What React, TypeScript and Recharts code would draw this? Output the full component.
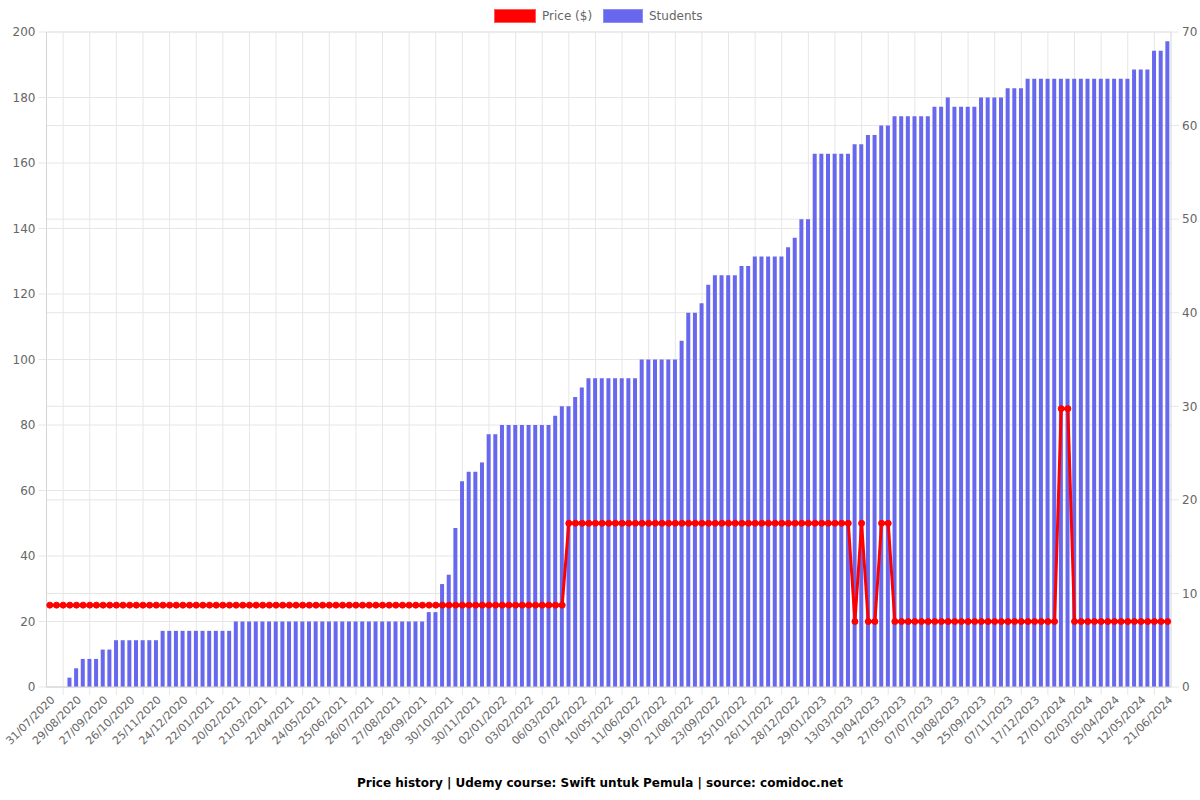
import React from 'react';
import { ComposedChart, Bar, Line, XAxis, YAxis, CartesianGrid } from 'recharts';

const dates = [
  '31/07/2020','07/08/2020','14/08/2020','22/08/2020','29/08/2020','05/09/2020','12/09/2020','20/09/2020','27/09/2020','04/10/2020',
  '11/10/2020','19/10/2020','26/10/2020','02/11/2020','10/11/2020','17/11/2020','25/11/2020','02/12/2020','09/12/2020','16/12/2020',
  '24/12/2020','31/12/2020','07/01/2021','14/01/2021','22/01/2021','29/01/2021','05/02/2021','12/02/2021','20/02/2021','27/02/2021',
  '06/03/2021','13/03/2021','21/03/2021','29/03/2021','06/04/2021','14/04/2021','22/04/2021','30/04/2021','08/05/2021','16/05/2021',
  '24/05/2021','01/06/2021','09/06/2021','17/06/2021','25/06/2021','03/07/2021','11/07/2021','18/07/2021','26/07/2021','03/08/2021',
  '11/08/2021','19/08/2021','27/08/2021','04/09/2021','12/09/2021','20/09/2021','28/09/2021','06/10/2021','14/10/2021','22/10/2021',
  '30/10/2021','07/11/2021','15/11/2021','22/11/2021','30/11/2021','08/12/2021','16/12/2021','25/12/2021','02/01/2022','10/01/2022',
  '18/01/2022','26/01/2022','03/02/2022','11/02/2022','19/02/2022','27/02/2022','06/03/2022','14/03/2022','22/03/2022','30/03/2022',
  '07/04/2022','15/04/2022','24/04/2022','02/05/2022','10/05/2022','18/05/2022','26/05/2022','03/06/2022','11/06/2022','21/06/2022',
  '30/06/2022','10/07/2022','19/07/2022','27/07/2022','04/08/2022','13/08/2022','21/08/2022','29/08/2022','07/09/2022','15/09/2022',
  '23/09/2022','01/10/2022','09/10/2022','17/10/2022','25/10/2022','02/11/2022','10/11/2022','18/11/2022','26/11/2022','04/12/2022',
  '12/12/2022','20/12/2022','28/12/2022','05/01/2023','13/01/2023','21/01/2023','29/01/2023','09/02/2023','19/02/2023','02/03/2023',
  '13/03/2023','22/03/2023','31/03/2023','10/04/2023','19/04/2023','28/04/2023','08/05/2023','17/05/2023','27/05/2023','06/06/2023',
  '16/06/2023','27/06/2023','07/07/2023','18/07/2023','29/07/2023','09/08/2023','19/08/2023','28/08/2023','07/09/2023','16/09/2023',
  '25/09/2023','06/10/2023','17/10/2023','28/10/2023','07/11/2023','17/11/2023','27/11/2023','07/12/2023','17/12/2023','27/12/2023',
  '06/01/2024','17/01/2024','27/01/2024','05/02/2024','14/02/2024','23/02/2024','02/03/2024','10/03/2024','19/03/2024','28/03/2024',
  '05/04/2024','14/04/2024','24/04/2024','03/05/2024','12/05/2024','22/05/2024','01/06/2024','11/06/2024','21/06/2024',
];

const students = [
  0,0,0,1,2,3,3,3,4,4,
  5,5,5,5,5,5,5,6,6,6,
  6,6,6,6,6,6,6,6,7,7,
  7,7,7,7,7,7,7,7,7,7,
  7,7,7,7,7,7,7,7,7,7,
  7,7,7,7,7,7,7,8,8,11,
  12,17,22,23,23,24,27,27,28,28,
  28,28,28,28,28,28,29,30,30,31,
  32,33,33,33,33,33,33,33,33,35,
  35,35,35,35,35,37,40,40,41,43,
  44,44,44,44,45,45,46,46,46,46,
  46,47,48,50,50,57,57,57,57,57,
  57,58,58,59,59,60,60,61,61,61,
  61,61,61,62,62,63,62,62,62,62,
  63,63,63,63,64,64,64,65,65,65,
  65,65,65,65,65,65,65,65,65,65,
  65,65,65,66,66,66,68,68,69,
];

const prices = [
  25,25,25,25,25,25,25,25,25,25,
  25,25,25,25,25,25,25,25,25,25,
  25,25,25,25,25,25,25,25,25,25,
  25,25,25,25,25,25,25,25,25,25,
  25,25,25,25,25,25,25,25,25,25,
  25,25,25,25,25,25,25,25,25,25,
  25,25,25,25,25,25,25,25,25,25,
  25,25,25,25,25,25,25,25,50,50,
  50,50,50,50,50,50,50,50,50,50,
  50,50,50,50,50,50,50,50,50,50,
  50,50,50,50,50,50,50,50,50,50,
  50,50,50,50,50,50,50,50,50,50,
  50,20,50,20,20,50,50,20,20,20,
  20,20,20,20,20,20,20,20,20,20,
  20,20,20,20,20,20,20,20,20,20,
  20,20,85,85,20,20,20,20,20,20,
  20,20,20,20,20,20,20,20,20,
];

const priceTicks = [0, 20, 40, 60, 80, 100, 120, 140, 160, 180, 200];
const studentTicks = [0, 10, 20, 30, 40, 50, 60, 70];

const data = dates.map((d, i) => ({ date: d, students: students[i], price: prices[i] }));

const W = 1200;
const H = 800;
const PLOT_TOP = 32;
const PLOT_BOTTOM = 687;
const LEFT_AXIS_W = 46.5;
const RIGHT_AXIS_W = 29;
const FONT = '"DejaVu Sans", sans-serif';
const GRID = '#e6e6e6';
const AXIS = '#d4d4d4';

const gridX = (args: any) => {
  const off = args && args.offset ? args.offset : { left: LEFT_AXIS_W, width: W - LEFT_AXIS_W - RIGHT_AXIS_W };
  const w = off.width / dates.length;
  const xs: number[] = [];
  for (let j = 4; j < dates.length; j += 4) xs.push(off.left + (j - 1.5) * w);
  return xs;
};

export default function App() {
  return (
    <div style={{ position: 'absolute', left: 0, top: 0, width: W, height: H, background: '#fff', fontFamily: FONT }}>
      <div style={{ position: 'absolute', left: 0, top: 0, width: W, height: 30, fontSize: 12, color: '#666' }}>
        <div style={{ position: 'absolute', left: 494, top: 9, width: 40, height: 12, background: '#ff0000', border: '1.5px solid #ff5a5a' }} />
        <div style={{ position: 'absolute', left: 542, top: 9, lineHeight: '15px' }}>Price ($)</div>
        <div style={{ position: 'absolute', left: 603, top: 9, width: 38, height: 12, background: '#6868ee', border: '1.5px solid #8d8df3' }} />
        <div style={{ position: 'absolute', left: 649, top: 9, lineHeight: '15px' }}>Students</div>
      </div>
      <ComposedChart
        width={W}
        height={H}
        data={data}
        margin={{ top: PLOT_TOP, right: 0, left: 0, bottom: 0 }}
        style={{ position: 'absolute', left: 0, top: 0 }}
      >
        <CartesianGrid yAxisId="left" vertical={false} stroke={GRID} strokeWidth={1} />
        <CartesianGrid yAxisId="right" vertical={false} stroke={GRID} strokeWidth={1} />
        <CartesianGrid yAxisId="left" horizontal={false} stroke={GRID} strokeWidth={1} verticalCoordinatesGenerator={gridX} />
        <CartesianGrid
          yAxisId="left"
          horizontal={false}
          stroke={GRID}
          strokeWidth={1}
          y={PLOT_BOTTOM}
          height={8}
          verticalCoordinatesGenerator={gridX}
        />
        <XAxis
          dataKey="date"
          interval={3}
          height={H - PLOT_BOTTOM}
          tickLine={false}
          tickSize={8}
          tickMargin={0}
          axisLine={{ stroke: AXIS }}
          angle={-45}
          textAnchor="end"
          tick={{ fontSize: 11, fill: '#666', fontFamily: FONT }}
        />
        <YAxis
          yAxisId="left"
          orientation="left"
          width={LEFT_AXIS_W}
          domain={[0, 200]}
          ticks={priceTicks}
          interval={0}
          tickSize={8}
          tickMargin={3}
          tickLine={{ stroke: GRID }}
          axisLine={{ stroke: AXIS }}
          tick={{ fontSize: 12, fill: '#666', fontFamily: FONT }}
        />
        <YAxis
          yAxisId="right"
          orientation="right"
          width={RIGHT_AXIS_W}
          domain={[0, 70]}
          ticks={studentTicks}
          interval={0}
          tickSize={8}
          tickMargin={3}
          tickLine={{ stroke: GRID }}
          axisLine={{ stroke: AXIS }}
          tick={{ fontSize: 12, fill: '#666', fontFamily: FONT }}
        />
        <Bar yAxisId="right" dataKey="students" fill="#6868ee" barSize={4} isAnimationActive={false} />
        <Line
          yAxisId="left"
          type="linear"
          dataKey="price"
          stroke="#ff0000"
          strokeWidth={3}
          dot={{ r: 3, fill: '#ff0000', stroke: '#ff0000', strokeWidth: 1 }}
          activeDot={false}
          isAnimationActive={false}
        />
      </ComposedChart>
      <div
        style={{
          position: 'absolute',
          left: 0,
          top: 775,
          width: W,
          textAlign: 'center',
          fontSize: 12,
          fontWeight: 'bold',
          color: '#000',
          lineHeight: '16px',
        }}
      >
        Price history | Udemy course: Swift untuk Pemula | source: comidoc.net
      </div>
    </div>
  );
}
